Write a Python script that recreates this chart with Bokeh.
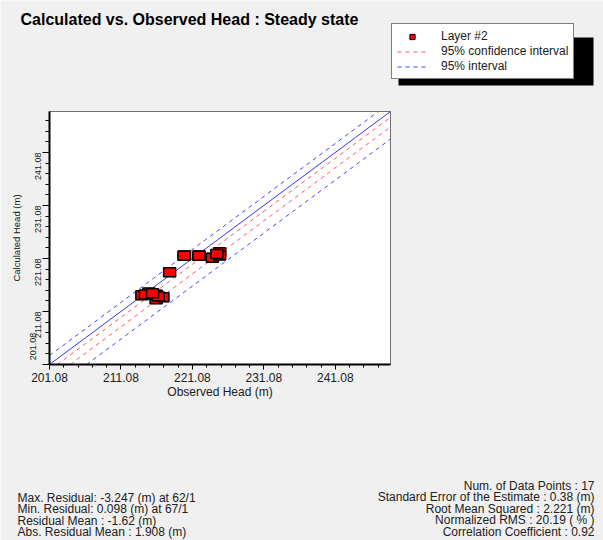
import math
from bokeh.plotting import figure
from bokeh.models import (Range1d, FixedTicker, PrintfTickFormatter, Label,
                          Legend, LegendItem)
from bokeh.embed import file_html
from bokeh.resources import INLINE

# ---- data ----
observed = [219.98, 221.99, 223.87, 224.89, 224.89, 217.89, 214.99, 214.01,
            216.02, 216.00, 216.95, 214.50, 216.30, 222.00, 224.50, 215.50, 219.90]
calculated = [221.65, 221.65, 221.21, 222.27, 221.65, 218.50, 214.66, 214.16,
              214.23, 213.40, 213.78, 214.30, 213.90, 221.60, 221.90, 214.50, 221.60]

axis_min = 201.08
axis_max = 248.8
major_ticks = [201.08, 211.08, 221.08, 231.08, 241.08]
minor_ticks = [201.08 + 2 * i for i in range(24)]

conf_offsets = [-1.1, -2.9]      # 95% confidence interval (red dashed)
pred_offsets = [1.7, -5.2]       # 95% interval (blue dashed)

title_text = "Calculated vs. Observed Head : Steady state"
legend_labels = ["Layer #2", "95% confidence interval", "95% interval"]
stats_left = ["Max. Residual: -3.247 (m) at 62/1",
              "Min. Residual: 0.098 (m) at 67/1",
              "Residual Mean : -1.62 (m)",
              "Abs. Residual Mean : 1.908 (m)"]
stats_right = ["Num. of Data Points : 17",
               "Standard Error of the Estimate : 0.38 (m)",
               "Root Mean Squared : 2.221 (m)",
               "Normalized RMS : 20.19 ( % )",
               "Correlation Coefficient : 0.92"]

FONT = "Liberation Sans"
BG = "#f0f0f0"
RED = "#ff5a5a"
BLUE = "#4545ff"
W, H = 603, 540
# pixel box of the plotting area inside the canvas
PL, PR, PT, PB = 49, 390, 111, 364

# ranges chosen so that [axis_min, axis_max] fills the plotting box
sxu = (PR - PL) / (axis_max - axis_min)
syu = (PB - PT) / (axis_max - axis_min)
x_start = axis_min - PL / sxu
x_end = axis_max + (W - PR) / sxu
y_start = axis_min - (H - PB) / syu
y_end = axis_max + PT / syu


def dx(px):
    return x_start + px / sxu


def dy(py):
    return y_end - py / syu


def offset_line(off):
    """y = x + off, limited to the plotting box."""
    x0 = max(axis_min, axis_min - off)
    x1 = min(axis_max, axis_max - off)
    return [x0, x1], [x0 + off, x1 + off]


p = figure(width=W, height=H, output_backend="svg", toolbar_location=None,
           x_range=Range1d(x_start, x_end), y_range=Range1d(y_start, y_end),
           min_border=0, background_fill_color=BG, border_fill_color=BG)
p.grid.visible = False
p.outline_line_color = None

# white plotting area with thin grey frame
p.quad(left=[axis_min], right=[axis_max], bottom=[axis_min], top=[axis_max],
       fill_color="white", line_color="#707070", line_width=1)

ticker = FixedTicker(ticks=major_ticks, minor_ticks=minor_ticks)
for ax in (p.xaxis[0], p.yaxis[0]):
    ax.ticker = ticker
    ax.formatter = PrintfTickFormatter(format="%.2f")
    ax.fixed_location = axis_min
    ax.bounds = (axis_min, axis_max)
    ax.axis_line_width = 2
    ax.axis_line_color = "black"
    ax.major_tick_in = 0
    ax.minor_tick_in = 0
    ax.major_tick_line_color = "black"
    ax.minor_tick_line_color = "black"
    ax.major_label_text_font = FONT
    ax.major_label_text_color = "#202020"
    ax.axis_label_text_font = FONT
    ax.axis_label_text_font_style = "normal"
    ax.axis_label_text_color = "#202020"

xa = p.xaxis[0]
xa.axis_label = "Observed Head (m)"
xa.major_tick_out = 5
xa.minor_tick_out = 3
xa.major_label_text_font_size = "12px"
xa.axis_label_text_font_size = "12px"
xa.major_label_standoff = 3
xa.axis_label_standoff = 0

ya = p.yaxis[0]
ya.axis_label = "Calculated Head (m)"
ya.major_tick_out = 7
ya.minor_tick_out = 4
ya.major_label_text_font_size = "9px"
ya.axis_label_text_font_size = "9.5px"
ya.major_label_standoff = 4
ya.axis_label_standoff = 8
ya.major_label_orientation = math.pi / 2
ya.major_label_overrides = {major_ticks[0]: ""}
# the lowest y tick label sits above its tick in the reference
p.add_layout(Label(x=32, y=H - 346, x_units="screen", y_units="screen",
                   text="%.2f" % major_ticks[0], angle=math.pi / 2,
                   text_font=FONT, text_font_size="9px", text_color="#202020",
                   text_align="center", text_baseline="middle"))

# 1:1 line and interval lines
xs = [axis_min, axis_max]
p.line(xs, xs, line_color="#3535ff", line_width=1)
red_lines = []
for off in conf_offsets:
    lx, ly = offset_line(off)
    red_lines.append(p.line(lx, ly, line_color=RED, line_width=1, line_dash="4 4"))
blue_lines = []
for off in pred_offsets:
    lx, ly = offset_line(off)
    blue_lines.append(p.line(lx, ly, line_color=BLUE, line_width=1, line_dash="4 4"))

# observation points (grey halo + red box)
p.rect(observed, calculated, width=13, height=10, width_units="screen",
       height_units="screen", fill_color="#a0a0a0", line_color=None)
p.rect(observed, calculated, width=12, height=9, width_units="screen",
       height_units="screen", fill_color="red", line_color="black",
       line_width=1.5)
# legend-only marker (not plotted: NaN position)
leg_marker = p.scatter([float("nan")], [float("nan")], marker="square", size=10,
                       fill_color="red", line_color="black", line_width=1)

# title
p.add_layout(Label(x=20, y=H - 19, x_units="screen", y_units="screen",
                   text=title_text, text_font=FONT, text_font_size="16px",
                   text_font_style="bold", text_color="black",
                   text_baseline="middle", text_align="left"))

# legend with drop shadow
p.quad(left=[dx(398)], right=[dx(593)], top=[dy(37)], bottom=[dy(85)],
       fill_color="black", line_color=None)
legend = Legend(items=[LegendItem(label=legend_labels[0], renderers=[leg_marker]),
                       LegendItem(label=legend_labels[1], renderers=[red_lines[0]]),
                       LegendItem(label=legend_labels[2], renderers=[blue_lines[0]])],
                location=(391, H - 79), orientation="vertical",
                border_line_color="black", border_line_width=1,
                background_fill_color="white", background_fill_alpha=1,
                label_text_font=FONT, label_text_font_size="12px",
                label_text_color="#202020",
                glyph_width=30, glyph_height=13, label_height=13,
                spacing=1, padding=5, margin=0, label_standoff=14)
p.add_layout(legend)

# statistics
for i, t in enumerate(stats_left):
    p.add_layout(Label(x=17, y=H - (497 + 11.5 * i), x_units="screen",
                       y_units="screen", text=t, text_font=FONT,
                       text_font_size="12px", text_color="#202020",
                       text_baseline="middle", text_align="left"))
for i, t in enumerate(stats_right):
    p.add_layout(Label(x=594, y=H - (485 + 11.6 * i), x_units="screen",
                       y_units="screen", text=t, text_font=FONT,
                       text_font_size="12px", text_color="#202020",
                       text_baseline="middle", text_align="right"))

open("out.html", "w").write(file_html(p, INLINE))
